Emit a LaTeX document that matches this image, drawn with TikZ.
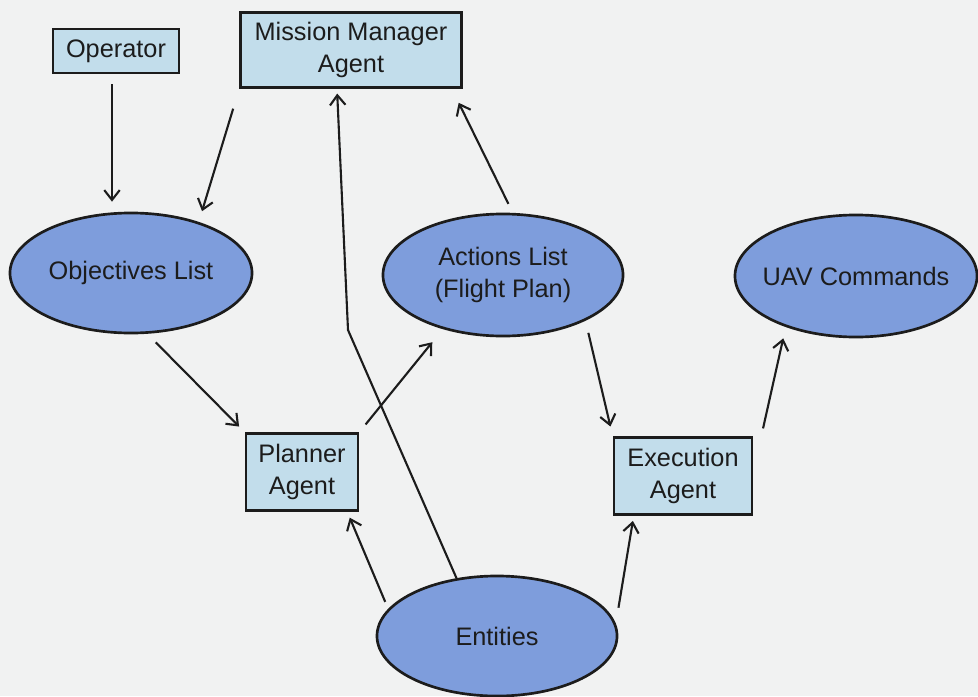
\documentclass[tikz,border=0pt]{standalone}
\usepackage{fontspec}
\setmainfont{Liberation Sans}
\usetikzlibrary{shapes.geometric,arrows.meta}

\definecolor{paper}{HTML}{F1F2F2}
\definecolor{boxfill}{HTML}{C2DDEB}
\definecolor{ovalfill}{HTML}{7E9DDC}
\definecolor{ink}{HTML}{1C1C1C}

\tikzset{
  agentbox/.style={draw=ink, line width=1.8pt, fill=boxfill, text=ink,
    align=center, inner sep=0pt, font=\fontsize{18}{22.8}\selectfont},
  dataoval/.style={ellipse, draw=ink, line width=1.9pt, fill=ovalfill, text=ink,
    align=center, inner sep=0pt, font=\fontsize{18}{22.8}\selectfont},
  flow/.style={draw=ink, line width=1.5pt,
    -{Straight Barb[length=7pt,width=11pt,line width=1.5pt]},
    shorten <=0.25cm, shorten >=0.25cm}
}

\begin{document}
\begin{tikzpicture}[x=0.025cm, y=-0.025cm]
  % page
  \fill[paper] (0,0) rectangle (978,696);
  \useasboundingbox (0,0) rectangle (978,696);

  % agents (boxes)
  \node[agentbox, minimum width=3.15cm, minimum height=1.1cm] (op) at (116,51) {Operator};
  \node[agentbox, minimum width=5.525cm, minimum height=1.875cm] (mma) at (351,50) {Mission Manager\\Agent};
  \node[agentbox, minimum width=2.8cm, minimum height=1.925cm] (plan) at (302,472) {Planner\\Agent};
  \node[agentbox, minimum width=3.45cm, minimum height=1.925cm] (exec) at (683,476) {Execution\\Agent};

  % data (ellipses)
  \node[dataoval, minimum width=6.05cm, minimum height=3.0cm] (obj) at (131,273) {Objectives List};
  \node[dataoval, minimum width=6.0cm, minimum height=3.05cm] (act) at (503,275) {Actions List\\(Flight Plan)};
  \node[dataoval, inner xsep=-10pt, minimum width=6.05cm, minimum height=3.05cm] (uav) at (856,276) {UAV Commands};
  \node[dataoval, minimum width=6.0cm, minimum height=3.0cm] (ent) at (497,636) {Entities};

  % bend of the Entities -> Mission Manager line
  \coordinate (bend) at (348,330);

  % connectors
  \draw[flow] ([xshift=-0.1cm]op.south) -- ([xshift=-0.1cm]op.south |- obj.north);
  \draw[flow, shorten <=0.52cm, shorten >=0.28cm] (mma.south west) -- (obj.37);
  \draw[flow, shorten <=0.3cm, shorten >=0.2cm] (obj.-75) -- (plan.north west);
  \draw[flow, shorten >=0.42cm] (plan.north east) -- (act.222);
  \draw[flow, shorten <=0pt, shorten >=0.12cm] (ent.125) -- (bend) -- ([xshift=-0.35cm]mma.south);
  \draw[flow, shorten >=0.39cm] (act.81) -- ([xshift=-0.275cm]mma.south east);
  \draw[flow, shorten <=0.31cm] (act.-29) -- (exec.north west);
  \draw[flow, shorten <=0.2cm, shorten >=0.29cm] ([xshift=0.2cm]exec.north east) -- (uav.216);
  \draw[flow, shorten <=0.19cm, shorten >=0.16cm] (ent.166.5) -- ([xshift=-0.3cm]plan.south east);
  \draw[flow, shorten <=0.4cm, shorten >=0.13cm] (ent.6.5) -- ([xshift=0.525cm]exec.south west);
\end{tikzpicture}
\end{document}
